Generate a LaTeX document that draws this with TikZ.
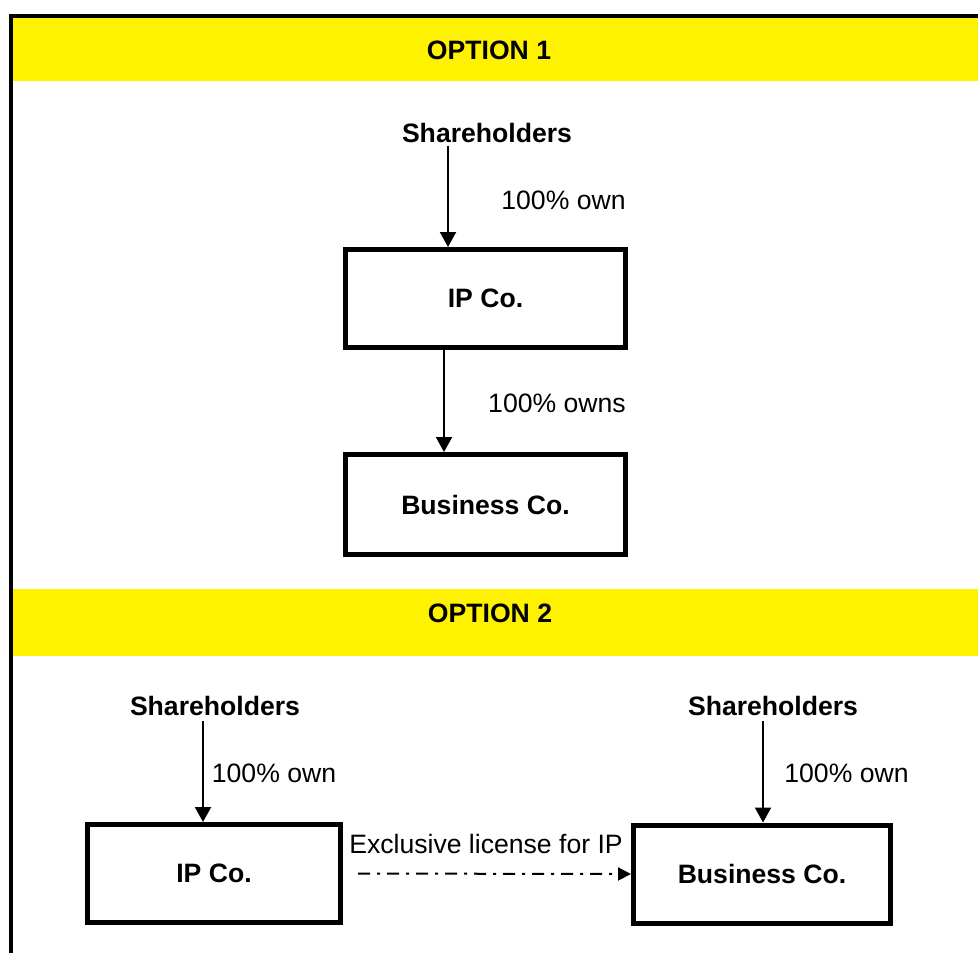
\documentclass[tikz,border=0pt]{standalone}
\usepackage{fontspec}
\setmainfont{Liberation Sans}
\usetikzlibrary{arrows.meta}

\tikzset{
  txt/.style={inner sep=0pt, font=\fontsize{13.3}{16}\selectfont},
  btxt/.style={txt, font=\fontsize{13.3}{16}\selectfont\bfseries},
  co/.style={draw, line width=2.5pt, inner sep=0pt, minimum height=49pt,
    font=\fontsize{13.3}{16}\selectfont\bfseries},
  own/.style={line width=1pt, -{Triangle[length=7.5pt,width=8pt]}},
  licence/.style={line width=1pt, dash pattern=on 6pt off 3.5pt on 1.5pt off 3.5pt,
    -{Triangle[length=6.5pt,width=6.5pt]}},
  band/.style={fill=yellow},
}

\begin{document}
\begin{tikzpicture}[x=0.5pt, y=-0.5pt]
  \useasboundingbox (0,0) rectangle (978,953);

  % yellow heading bands
  \fill[band] (13,18) rectangle (978,81);
  \fill[band] (13,589) rectangle (978,656);

  % frame: top and left rules
  \draw[line width=2pt, line join=miter] (978,16) -- (11,16) -- (11,953);

  % headings
  \node[btxt] (opt1) at (489,50) {OPTION 1};
  \node[btxt] (opt2) at (490,613) {OPTION 2};

  % ---- option 1: holding chain ----
  \node[btxt] (sh1) at (487,132.5) {Shareholders};
  \node[co, minimum width=140pt] (ip1) at (485.5,298.5) {IP Co.};
  \node[co, minimum width=140pt, minimum height=50pt] (bc1) at (485.5,504.5) {Business Co.};

  \coordinate (a1) at (448,0);
  \coordinate (a2) at (444,0);
  \draw[own] ([yshift=-1.5pt]sh1.south -| a1) -- (ip1.north -| a1);
  \draw[own] (ip1.south -| a2) -- (bc1.north -| a2);

  \node[txt] (l1) at (563.5,200) {100\% own};
  \node[txt] (l2) at (557,403.5) {100\% owns};

  % ---- option 2: separate companies with a licence ----
  \node[btxt] (sh2) at (215,706) {Shareholders};
  \node[btxt] (sh3) at (773,706) {Shareholders};
  \node[co, minimum width=126.5pt] (ip2) at (214,873.5) {IP Co.};
  \node[co, minimum width=128.5pt] (bc2) at (762,874) {Business Co.};

  \coordinate (a3) at (203,0);
  \coordinate (a4) at (763,0);
  \draw[own] ([yshift=-2.5pt]sh2.south -| a3) -- (ip2.north -| a3);
  \draw[own] ([yshift=-2.5pt]sh3.south -| a4) -- (bc2.north -| a4);

  \node[txt] (l3) at (274,773.5) {100\% own};
  \node[txt] (l4) at (846.5,773) {100\% own};

  \draw[licence, shorten <=7.5pt] (ip2.east) -- (bc2.west);
  \node[txt] (lic) at (486,844) {Exclusive license for IP};
\end{tikzpicture}
\end{document}
